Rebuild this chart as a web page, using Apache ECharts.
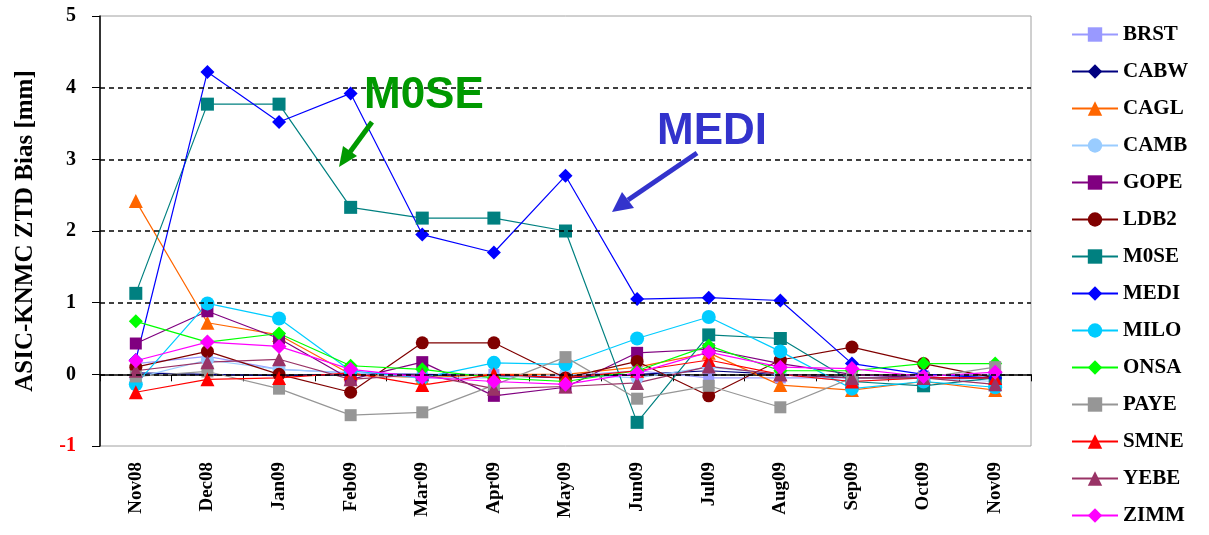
<!doctype html>
<html>
<head>
<meta charset="utf-8">
<title>ASIC-KNMC ZTD Bias</title>
<script src="https://cdn.jsdelivr.net/npm/echarts@6/dist/echarts.min.js"></script>
<style type="text/css">
	html,body{margin:0;padding:0;background:#fff;}
	#chart{width:1209px;height:535px;}
</style>
</head>
<body>
<div id="chart"></div>
<script type="text/javascript">
var months = ['Nov08','Dec08','Jan09','Feb09','Mar09','Apr09','May09','Jun09','Jul09','Aug09','Sep09','Oct09','Nov09'];
var gridValues = [0, 1, 2, 3, 4];

var BRST = [0.15, 0.25, 0.07, 0.02, 0.0, 0.0, -0.02, 0.05, -0.05, -0.05, -0.05, -0.02, 0.0];
var CABW = [0.02, 0.0, -0.02, 0.0, 0.0, -0.02, -0.05, 0.0, 0.05, 0.0, -0.05, -0.05, -0.05];
var CAGL = [2.42, 0.72, 0.55, 0.0, -0.05, 0.0, 0.0, 0.1, 0.3, -0.15, -0.22, -0.1, -0.22];
var CAMB = [-0.05, 0.2, 0.07, 0.02, -0.05, -0.05, 0.0, -0.05, 0.1, 0.0, -0.1, -0.05, -0.1];
var GOPE = [0.43, 0.88, 0.5, -0.07, 0.17, -0.3, -0.18, 0.3, 0.35, 0.15, 0.0, -0.05, -0.05];
var LDB2 = [0.1, 0.32, 0.0, -0.25, 0.44, 0.44, -0.05, 0.18, -0.3, 0.2, 0.38, 0.15, -0.05];
var M0SE = [1.13, 3.77, 3.77, 2.33, 2.18, 2.18, 2.0, -0.67, 0.55, 0.5, -0.1, -0.16, -0.05];
var MEDI = [0.2, 4.22, 3.52, 3.92, 1.95, 1.7, 2.77, 1.05, 1.07, 1.03, 0.15, 0.0, -0.05];
var MILO = [-0.14, 0.99, 0.78, 0.05, -0.05, 0.16, 0.14, 0.5, 0.8, 0.32, -0.2, -0.1, -0.18];
var ONSA = [0.74, 0.45, 0.57, 0.12, 0.07, -0.05, -0.1, 0.05, 0.4, 0.05, 0.05, 0.15, 0.15];
var PAYE = [-0.03, 0.04, -0.2, -0.57, -0.53, -0.15, 0.24, -0.34, -0.16, -0.46, -0.05, -0.05, 0.1];
var SMNE = [-0.25, -0.07, -0.05, 0.02, -0.15, 0.0, -0.05, 0.05, 0.2, 0.0, -0.1, -0.05, -0.05];
var YEBE = [0.05, 0.17, 0.21, -0.07, 0.0, -0.2, -0.17, -0.12, 0.11, 0.0, -0.05, -0.05, -0.14];
var ZIMM = [0.19, 0.45, 0.39, 0.07, -0.04, -0.1, -0.14, 0.02, 0.31, 0.1, 0.08, -0.03, 0.03];

// name, data, colour, symbol, symbol size
var stations = [
	['BRST', BRST, '#9999ff', 'rect', 11],
	['CABW', CABW, '#000080', 'diamond', 7],
	['CAGL', CAGL, '#ff6600', 'triangle', 14],
	['CAMB', CAMB, '#99ccff', 'circle', 13],
	['GOPE', GOPE, '#800080', 'rect', 12],
	['LDB2', LDB2, '#800000', 'circle', 13],
	['M0SE', M0SE, '#008080', 'rect', 13],
	['MEDI', MEDI, '#0000ff', 'diamond', 14],
	['MILO', MILO, '#00ccff', 'circle', 14],
	['ONSA', ONSA, '#00ff00', 'diamond', 14],
	['PAYE', PAYE, '#969696', 'rect', 12],
	['SMNE', SMNE, '#ff0000', 'triangle', 14],
	['YEBE', YEBE, '#993366', 'triangle', 14],
	['ZIMM', ZIMM, '#ff00ff', 'diamond', 15]
];

var serif = '"Liberation Serif", "DejaVu Serif", serif';

var series = [];
for (var i = 0; i < stations.length; i++) {
	var s = stations[i];
	series.push({
		name: s[0],
		type: 'line',
		data: s[1],
		symbol: s[3],
		symbolSize: s[4],
		showAllSymbol: true,
		color: s[2],
		lineStyle: {width: 1.2, color: s[2]},
		itemStyle: {color: s[2]},
		animation: false
	});
}
// dashed reference lines
series.push({
	type: 'line',
	data: [],
	silent: true,
	markLine: {
		symbol: 'none',
		silent: true,
		label: {show: false},
		lineStyle: {color: '#000', type: [5, 4], width: 1.5},
		data: gridValues.map(function(v){ return {yAxis: v}; })
	},
	z: 1
});

var chart = echarts.init(document.getElementById('chart'));
var option = {
	backgroundColor: '#fff',
	animation: false,
	grid: {
		left: 100, right: 178, top: 16, bottom: 89,
		show: true, borderColor: '#a0a0a0', borderWidth: 1, backgroundColor: 'transparent'
	},
	legend: {
		orient: 'vertical',
		left: 1066,
		top: 19,
		itemWidth: 46,
		itemHeight: 18,
		itemGap: 16,
		textStyle: {fontFamily: serif, fontWeight: 'bold', fontSize: 21, color: '#000'},
		data: stations.map(function(s){ return s[0]; })
	},
	xAxis: {
		type: 'category',
		data: months,
		boundaryGap: true,
		axisLine: {lineStyle: {color: '#000', width: 1.5}},
		axisTick: {show: true, length: 7, lineStyle: {color: '#000'}},
		axisLabel: {rotate: 90, margin: 16, fontFamily: serif, fontWeight: 'bold', fontSize: 19, color: '#000'},
		splitLine: {show: false}
	},
	yAxis: {
		type: 'value',
		min: -1, max: 5, interval: 1,
		name: 'ASIC-KNMC ZTD Bias [mm]',
		nameLocation: 'middle',
		nameGap: 62,
		nameTextStyle: {fontFamily: serif, fontWeight: 'bold', fontSize: 25, color: '#000'},
		axisLine: {show: true, lineStyle: {color: '#000', width: 1.5}},
		axisTick: {show: true, length: 8, lineStyle: {color: '#000'}},
		axisLabel: {
			margin: 24,
			fontFamily: serif, fontWeight: 'bold', fontSize: 20, color: '#000',
			formatter: function(v){ return v < 0 ? '{neg|' + v + '}' : '' + v; },
			rich: {neg: {fontFamily: serif, fontWeight: 'bold', fontSize: 20, color: '#ff0000'}}
		},
		splitLine: {show: false}
	},
	graphic: [
		{type: 'text', left: 364, top: 74, z: 100,
			style: {text: 'M0SE', fill: '#009900', font: 'bold 44px "Liberation Sans", Arial, sans-serif'}},
		{type: 'line', z: 100, shape: {x1: 372, y1: 122, x2: 350, y2: 152},
			style: {stroke: '#009900', lineWidth: 5}},
		{type: 'polygon', z: 100, shape: {points: [[339, 167], [343, 146], [357, 156]]},
			style: {fill: '#009900'}},
		{type: 'text', left: 657, top: 110, z: 100,
			style: {text: 'MEDI', fill: '#3333cc', font: 'bold 44px "Liberation Sans", Arial, sans-serif'}},
		{type: 'line', z: 100, shape: {x1: 697, y1: 153, x2: 628, y2: 200},
			style: {stroke: '#3333cc', lineWidth: 5}},
		{type: 'polygon', z: 100, shape: {points: [[612, 212], [622, 192], [634, 208]]},
			style: {fill: '#3333cc'}}
	],
	series: series
};
chart.setOption(option);
</script>
</body>
</html>
